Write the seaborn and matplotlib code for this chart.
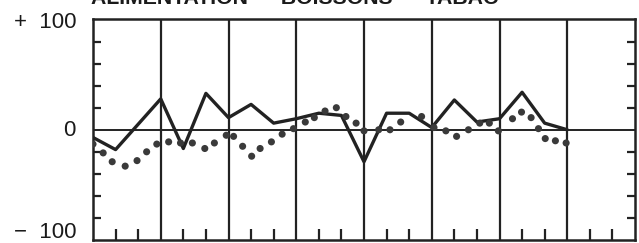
import matplotlib
matplotlib.use("Agg")
import matplotlib.pyplot as plt
import matplotlib.transforms as mtransforms
import seaborn as sns
import numpy as np
import pandas as pd

# ---- data (months from start, index values) ----
solid_months = [0, 4, 8, 12, 16, 20, 24, 28, 32, 36, 40, 44, 48, 52, 56, 60, 64, 68, 72, 76, 80, 84]
solid_values = [-7, -18, 5, 28, -17, 33, 11, 23, 6, 10, 15, 13, -29, 15, 15, 2, 27, 7, 10, 34, 6, 0]

dot_months = [0.0, 1.8, 3.4, 5.7, 7.8, 9.5, 11.3, 13.4, 15.5, 17.6, 19.8, 21.5, 23.6,
              24.9, 26.5, 28.1, 29.6, 31.6, 33.5, 35.5, 37.6, 39.2, 41.1, 43.1, 44.8,
              46.6, 48.0, 50.6, 52.6, 54.5, 58.2, 60.4, 62.5, 64.4, 66.5, 68.5, 70.2,
              71.8, 74.3, 75.9, 77.6, 78.9, 80.1, 81.9, 83.8]
dot_values = [-13, -21, -29, -33, -28, -20, -13, -11, -12, -12, -17, -12, -5,
              -6, -15, -24, -17, -11, -4, 1, 7, 11, 17, 20, 12,
              6, -1, 0, 0, 7, 12, 2, -1, -6, 0, 6, 6,
              -1, 10, 16, 11, 1, -8, -10, -12]

title = "ALIMENTATION \u2014 BOISSONS \u2014 TABAC"
ytick_values = [100, 0, -100]
ytick_labels = ["+  100", "0", "\u2212  100"]

sns.set_theme(style="white")
plt.rcParams["font.family"] = ["Liberation Sans", "DejaVu Sans"]

fig = plt.figure(figsize=(6.39, 2.43), dpi=100)
ax = fig.add_axes([93/639, 3/243, 542/639, 220.5/243])

ink = "#222222"
df_s = pd.DataFrame({"m": solid_months, "v": solid_values})
df_d = pd.DataFrame({"m": dot_months, "v": dot_values})

for x in range(12, 96, 12):
    ax.axvline(x, color=ink, lw=1.6, zorder=1)
ax.axhline(0, color=ink, lw=1.4, zorder=1)

sns.lineplot(data=df_s, x="m", y="v", ax=ax, color=ink, lw=2.4, zorder=3)
sns.scatterplot(data=df_d, x="m", y="v", ax=ax, color="#3a3a3a", s=26,
                edgecolor="none", zorder=4)

ax.set_xlim(0, 96)
ax.set_ylim(-100, 100)
ax.set_xlabel("")
ax.set_ylabel("")

for s in ax.spines.values():
    s.set_color(ink)
    s.set_linewidth(1.8)

ax.set_yticks([])
ax.set_yticks([-80, -60, -40, -20, 20, 40, 60, 80], minor=True)
ax.tick_params(axis="y", which="minor", direction="in", length=6, width=1.6,
               left=True, right=True, color=ink)

ax.set_xticks([])
ax.set_xticks([m for m in range(4, 96, 4) if m % 12 != 0], minor=True)
ax.tick_params(axis="x", which="minor", direction="in", length=8, width=1.6,
               bottom=True, top=False, color=ink)

# y labels
base = mtransforms.blended_transform_factory(ax.transAxes, ax.transData)
offsets = [(0, -1), (0, 2), (0, 2)]
vas = ["center_baseline", "center_baseline", "baseline"]
for val, lab, (dx, dy), va in zip(ytick_values, ytick_labels, offsets, vas):
    tr = mtransforms.offset_copy(base, fig=fig, x=dx, y=dy, units="dots")
    ax.text(-17/542, val, lab, transform=tr, ha="right", va=va,
            fontsize=16, color="#1a1a1a", clip_on=False)

fig.text(295/639, 1 - 4.5/243, title, ha="center", va="baseline",
         fontsize=15.3, fontweight="bold", color="#1a1a1a")

fig.savefig("out.png", dpi=100, facecolor="white")
